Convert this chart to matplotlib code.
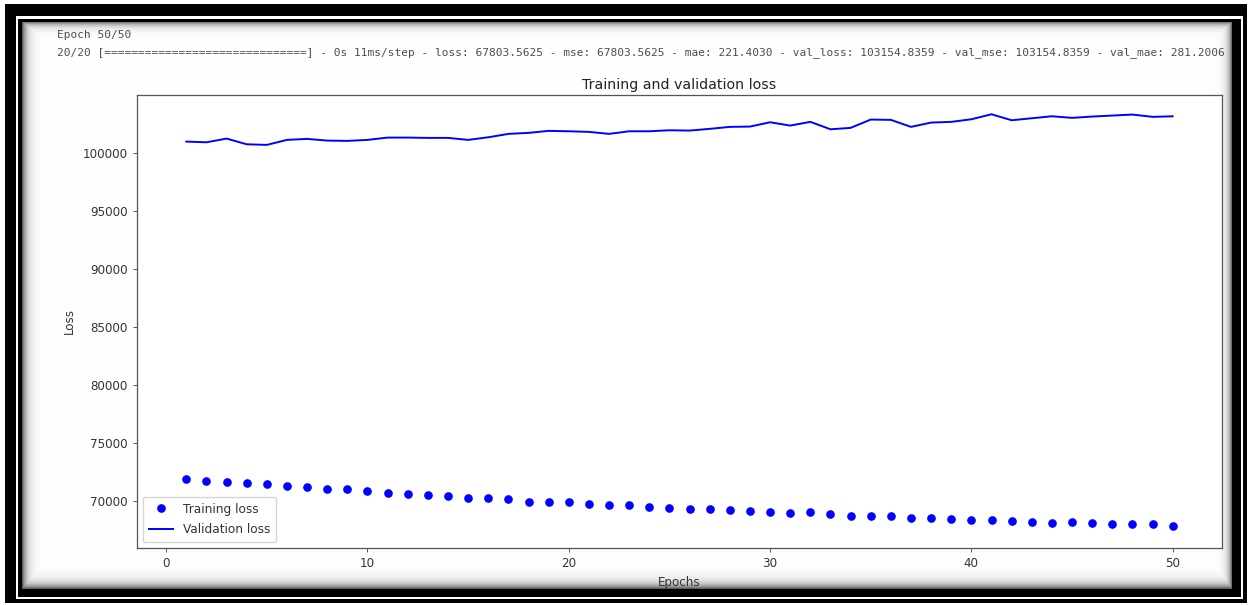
import numpy as np
import matplotlib
matplotlib.use("Agg")
import matplotlib.pyplot as plt

# ---- training history (50 epochs) ----
epochs = list(range(1, 51))

train_loss = [
    71872, 71726, 71665, 71527, 71467, 71294, 71234, 71035, 71009, 70837,
    70664, 70578, 70518, 70431, 70285, 70233, 70147, 69940, 69914, 69888,
    69715, 69681, 69681, 69508, 69422, 69284, 69284, 69198, 69163, 69051,
    68965, 69077, 68904, 68706, 68706, 68706, 68533, 68533, 68447, 68387,
    68387, 68300, 68188, 68128, 68214, 68076, 67990, 67990, 67990, 67803.5625,
]

val_loss = [
    100975, 100915, 101234, 100742, 100690, 101122, 101208, 101061, 101035, 101122,
    101320, 101320, 101294, 101294, 101122, 101346, 101639, 101726, 101898, 101864,
    101812, 101639, 101864, 101864, 101950, 101924, 102071, 102243, 102269, 102640,
    102355, 102675, 102036, 102157, 102873, 102847, 102243, 102614, 102675, 102899,
    103330, 102813, 102985, 103158, 103020, 103132, 103218, 103304, 103106, 103154.8359,
]

y_limits = (65950, 104990)

console_lines = [
    "Epoch 50/50",
    "20/20 [==============================] - 0s 11ms/step - loss: 67803.5625 "
    "- mse: 67803.5625 - mae: 221.4030 - val_loss: 103154.8359 "
    "- val_mse: 103154.8359 - val_mae: 281.2006",
]

W, H = 1249, 605
DPI = 100
fig = plt.figure(figsize=(W / DPI, H / DPI), dpi=DPI)
fig.patch.set_facecolor("white")

# ---- framed background with inner shadow ----
bg = np.ones((H, W, 3))
yy, xx = np.mgrid[0:H, 0:W] + 0.5
# outer black block
bg[4:603, 5:1247] = 0.0
# thin white separator ring
ring = np.zeros((H, W), bool)
ring[16:19, 16:1243] = True
ring[597:599, 16:1243] = True
ring[16:599, 16:18] = True
ring[16:599, 1241:1243] = True
bg[ring] = 1.0
# interior with soft shadow along its edges
x0, x1, y0, y1 = 22, 1232, 22, 589
inner = (xx >= x0) & (xx < x1) & (yy >= y0) & (yy < y1)
dl = xx - x0
dr = x1 - xx
dt = yy - y0
db = y1 - yy
shade = np.maximum.reduce([
    0.70 * np.exp(-dl / 4.5),
    0.65 * np.exp(-dr / 3.5),
    0.60 * np.exp(-dt / 3.5),
    0.70 * np.exp(-db / 5.0),
])
val = 1.0 - shade
for c in range(3):
    bg[..., c][inner] = val[inner]
fig.figimage(bg, xo=0, yo=0, origin="upper", zorder=0)

# ---- console output above the plot ----
mono = dict(family="DejaVu Sans Mono", fontsize=8.05, color="#4d4d4d")
fig.text(57 / W, 1 - 35 / H, console_lines[0], va="center", ha="left", **mono)
fig.text(57 / W, 1 - 53 / H, console_lines[1], va="center", ha="left", **mono)

# ---- loss plot ----
ax_l, ax_r, ax_t, ax_b = 137, 1222, 95, 548
ax = fig.add_axes([ax_l / W, (H - ax_b) / H, (ax_r - ax_l) / W, (ax_b - ax_t) / H])
ax.set_facecolor("white")
ax.set_zorder(2)

ax.plot(epochs, train_loss, "bo", markersize=5.2, label="Training loss")
ax.plot(epochs, val_loss, "b", linewidth=1.4, label="Validation loss")
ax.set_ylim(*y_limits)

txt = "#333333"
ax.set_title("Training and validation loss", fontsize=10.2, color="#222222", pad=4.5)
ax.set_xlabel("Epochs", fontsize=8.6, color=txt, labelpad=4.5)
ax.set_ylabel("Loss", fontsize=8.6, color=txt, labelpad=5)
ax.tick_params(labelsize=8.6, labelcolor=txt, length=3, width=0.7, color="#555555", pad=3.5)
for s in ax.spines.values():
    s.set_color("#555555")
    s.set_linewidth(0.9)

leg = ax.legend(loc="lower left", fontsize=8.7, framealpha=0.8, borderpad=0.5,
                handlelength=2.0, labelspacing=0.6)
for t in leg.get_texts():
    t.set_color(txt)

fig.savefig("out.png", dpi=DPI, facecolor="white")
